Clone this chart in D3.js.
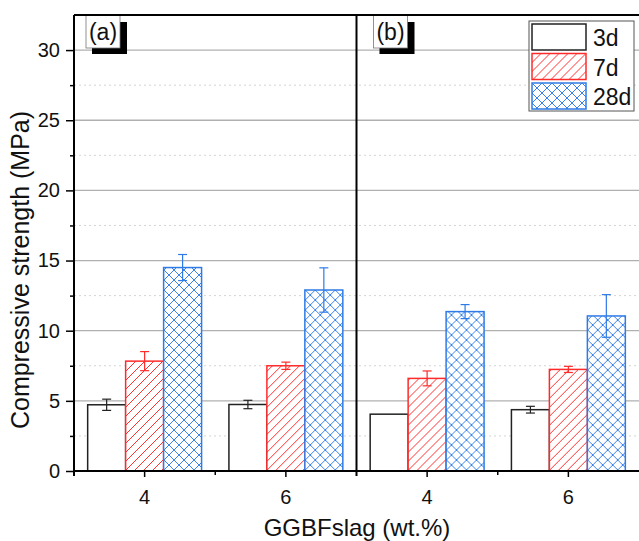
<!DOCTYPE html>
<html>
<head>
<meta charset="utf-8">
<script src="https://cdn.jsdelivr.net/npm/d3@7"></script>
<style>
  body { margin: 0; background: #fff; }
  svg { display: block; font-family: "Liberation Sans", Arial, sans-serif; }
</style>
</head>
<body>
<svg id="chart" width="639" height="541"></svg>
<script>
// data
var panels = ['(a)', '(b)'];
var categories = ['4', '6'];
var series = ['3d', '7d', '28d'];
// values[category][series] per panel
var valuesA = [[4.72, 7.83, 14.5], [4.74, 7.5, 12.9]];
var errorsA = [[0.4, 0.68, 0.93], [0.3, 0.26, 1.58]];
var valuesB = [[4.05, 6.6, 11.36], [4.37, 7.24, 11.05]];
var errorsB = [[0, 0.53, 0.5], [0.24, 0.22, 1.52]];
var yMajorTicks = [0, 5, 10, 15, 20, 25, 30];
var yMinorTicks = [2.5, 7.5, 12.5, 17.5, 22.5, 27.5];

var svg = d3.select('#chart');
var mLeft = 74, mRight = 639, mTop = 15, mBottom = 471;

var colors = { '3d': '#222222', '7d': '#ff2b2b', '28d': '#2f7be6' };

// hatch patterns
var defs = svg.append('defs');
var p1 = defs.append('pattern').attr('id', 'hatch7').attr('patternUnits', 'userSpaceOnUse')
    .attr('width', 9).attr('height', 9);
p1.append('rect').attr('width', 9).attr('height', 9).attr('fill', '#fff');
p1.append('path').attr('d', 'M-2,2 L2,-2 M0,9 L9,0 M7,11 L11,7')
    .attr('fill', 'none').style('stroke', '#ff3030').style('stroke-width', '1');
var p2 = defs.append('pattern').attr('id', 'hatch28').attr('patternUnits', 'userSpaceOnUse')
    .attr('width', 10).attr('height', 10);
p2.append('rect').attr('width', 10).attr('height', 10).attr('fill', '#fff');
p2.append('path').attr('d', 'M-2,2 L2,-2 M0,10 L10,0 M8,12 L12,8 M-2,8 L2,12 M0,0 L10,10 M8,-2 L12,2')
    .attr('fill', 'none').style('stroke', '#3a82ea').style('stroke-width', '1');
var fills = { '3d': '#fff', '7d': 'url(#hatch7)', '28d': 'url(#hatch28)' };

var y = d3.scaleLinear().domain([0, 32.5]).range([mBottom, mTop]);
var xPanel = d3.scaleBand().domain(panels).range([mLeft, mRight]);
var xCat = d3.scaleBand().domain(categories).range([0, xPanel.bandwidth()]);
var xSer = d3.scaleBand().domain(series).range([0, xCat.bandwidth()]).paddingOuter(0.36);

// grid
svg.append('g').selectAll('line').data(yMinorTicks).enter().append('line')
    .attr('x1', mLeft).attr('x2', mRight)
    .attr('y1', function (d) { return y(d); }).attr('y2', function (d) { return y(d); })
    .attr('stroke', '#d4d4d4').attr('stroke-dasharray', '2,3');
svg.append('g').selectAll('line').data(yMajorTicks.slice(1)).enter().append('line')
    .attr('x1', mLeft).attr('x2', mRight)
    .attr('y1', function (d) { return y(d); }).attr('y2', function (d) { return y(d); })
    .attr('stroke', '#b0b0b0').attr('stroke-width', 1.3);

var allValues = [valuesA, valuesB];
var allErrors = [errorsA, errorsB];

panels.forEach(function (p, pi) {
    var g = svg.append('g').attr('transform', 'translate(' + xPanel(p) + ',0)');
    categories.forEach(function (c, ci) {
        var rows = series.map(function (s, si) {
            return { s: s, v: allValues[pi][ci][si], e: allErrors[pi][ci][si] };
        });
        var cg = g.append('g').attr('transform', 'translate(' + xCat(c) + ',0)');
        cg.selectAll('rect').data(rows).enter().append('rect')
            .attr('x', function (d) { return xSer(d.s); })
            .attr('y', function (d) { return y(d.v); })
            .attr('width', xSer.bandwidth())
            .attr('height', function (d) { return y(0) - y(d.v); })
            .attr('fill', function (d) { return fills[d.s]; })
            .attr('stroke', function (d) { return colors[d.s]; })
            .attr('stroke-width', 1.5);
        var eg = cg.selectAll('g.err').data(rows.filter(function (d) { return d.e > 0; }))
            .enter().append('g').attr('class', 'err')
            .attr('stroke', function (d) { return colors[d.s]; }).attr('stroke-width', 1.2);
        eg.append('line')
            .attr('x1', function (d) { return xSer(d.s) + xSer.bandwidth() / 2; })
            .attr('x2', function (d) { return xSer(d.s) + xSer.bandwidth() / 2; })
            .attr('y1', function (d) { return y(d.v + d.e); })
            .attr('y2', function (d) { return y(d.v - d.e); });
        [1, -1].forEach(function (sign) {
            eg.append('line')
                .attr('x1', function (d) { return xSer(d.s) + xSer.bandwidth() / 2 - 4.5; })
                .attr('x2', function (d) { return xSer(d.s) + xSer.bandwidth() / 2 + 4.5; })
                .attr('y1', function (d) { return y(d.v + sign * d.e); })
                .attr('y2', function (d) { return y(d.v + sign * d.e); });
        });
    });

    // x axis of this panel
    var ax = g.append('g').attr('transform', 'translate(0,' + mBottom + ')')
        .call(d3.axisBottom(xCat).tickSize(6).tickPadding(13));
    ax.select('.domain').remove();
    ax.attr('font-size', 20).attr('font-family', null);
    ax.selectAll('line').attr('stroke', '#000').attr('stroke-width', 1.5);
    ax.selectAll('text').attr('fill', '#111');
    // minor tick between groups
    g.append('line').attr('x1', xPanel.bandwidth() / 2).attr('x2', xPanel.bandwidth() / 2)
        .attr('y1', mBottom).attr('y2', mBottom + 4).attr('stroke', '#000').attr('stroke-width', 1.5);

    // panel label
    var lx = pi === 0 ? 12 : 17;
    g.append('rect').attr('x', lx + 6).attr('y', mTop + 7).attr('width', 35).attr('height', 32).attr('fill', '#000');
    g.append('rect').attr('x', lx).attr('y', mTop).attr('width', 34).attr('height', 33)
        .attr('fill', '#fff').attr('stroke', '#777').attr('stroke-width', 0.8);
    g.append('text').attr('x', lx + 17).attr('y', mTop + 25).attr('text-anchor', 'middle')
        .attr('font-size', 23).attr('fill', '#111').text(p);
});

// x axis line, frame and divider
svg.append('line').attr('x1', mLeft).attr('x2', mRight).attr('y1', mBottom).attr('y2', mBottom)
    .attr('stroke', '#000').attr('stroke-width', 2);
svg.append('line').attr('x1', mLeft).attr('x2', mRight).attr('y1', mTop).attr('y2', mTop)
    .attr('stroke', '#000').attr('stroke-width', 2);
svg.append('line').attr('x1', xPanel('(b)')).attr('x2', xPanel('(b)')).attr('y1', mTop).attr('y2', mBottom + 5)
    .attr('stroke', '#000').attr('stroke-width', 2);

// y axis
var yAxis = svg.append('g').attr('transform', 'translate(' + mLeft + ',0)')
    .call(d3.axisLeft(y).tickValues(yMajorTicks).tickSize(8).tickPadding(6));
yAxis.select('.domain').remove();
yAxis.attr('font-size', 20).attr('font-family', null);
yAxis.selectAll('line').attr('stroke', '#000').attr('stroke-width', 1.5);
yAxis.selectAll('text').attr('fill', '#111');
var yMinor = svg.append('g').attr('transform', 'translate(' + mLeft + ',0)')
    .call(d3.axisLeft(y).tickValues(yMinorTicks).tickSize(4).tickFormat(''));
yMinor.select('.domain').remove();
yMinor.selectAll('line').attr('stroke', '#000').attr('stroke-width', 1.5);
svg.append('line').attr('x1', mLeft).attr('x2', mLeft).attr('y1', mTop).attr('y2', mBottom + 5)
    .attr('stroke', '#000').attr('stroke-width', 2);

// axis titles
svg.append('text').attr('transform', 'translate(29,270) rotate(-90)')
    .attr('text-anchor', 'middle').attr('font-size', 25).attr('fill', '#111')
    .text('Compressive strength (MPa)');
svg.append('text').attr('x', 357).attr('y', 536).attr('text-anchor', 'middle')
    .attr('font-size', 24).attr('fill', '#111').text('GGBFslag (wt.%)');

// legend
var legend = svg.append('g').attr('transform', 'translate(529,21)');
legend.append('rect').attr('width', 105).attr('height', 90).attr('fill', '#fff')
    .attr('stroke', '#555').attr('stroke-width', 1);
var items = legend.selectAll('g.item').data(series).enter().append('g').attr('class', 'item')
    .attr('transform', function (d, i) { return 'translate(3,' + (3 + i * 29.5) + ')'; });
items.append('rect').attr('width', 54).attr('height', 26)
    .attr('fill', function (d) { return fills[d]; })
    .attr('stroke', function (d) { return colors[d]; }).attr('stroke-width', 1.5);
items.append('text').attr('x', 61).attr('y', 22).attr('font-size', 23).attr('fill', '#111')
    .text(function (d) { return d; });
</script>
</body>
</html>
